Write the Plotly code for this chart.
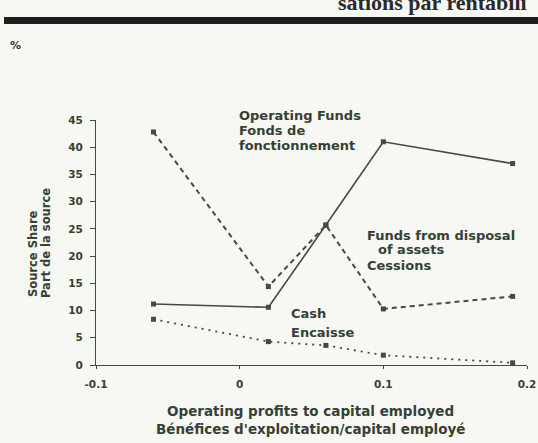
import plotly.graph_objects as go

# Data
x_vals = [-0.06, 0.02, 0.06, 0.10, 0.19]
operating_funds = [11.2, 10.6, 25.7, 41.0, 37.0]
disposal_assets = [42.8, 14.4, 25.7, 10.3, 12.6]
cash = [8.4, 4.3, 3.6, 1.8, 0.4]

x_tick_vals = [-0.1, 0, 0.1, 0.2]
x_tick_text = ["-0.1", "0", "0.1", "0.2"]
y_tick_vals = [0, 5, 10, 15, 20, 25, 30, 35, 40, 45]

INK = "#344234"
LINE = "#3f4c40"
BG = "#f7f7f3"
FONT = "DejaVu Sans"

W, H = 538, 443
L, R, T, B = 96, 11, 120, 78
PW, PH = W - L - R, H - T - B


def px(xp):
    return (xp - L) / PW


def py(yp):
    return (H - B - yp) / PH


fig = go.Figure()
fig.add_trace(go.Scatter(
    x=x_vals, y=operating_funds, mode="lines+markers",
    line=dict(color=LINE, width=1.6),
    marker=dict(symbol="square", size=5, color=LINE),
    name="Operating Funds", cliponaxis=False))
fig.add_trace(go.Scatter(
    x=x_vals, y=disposal_assets, mode="lines+markers",
    line=dict(color=LINE, width=2, dash="5px,4px"),
    marker=dict(symbol="square", size=5, color=LINE),
    name="Funds from disposal of assets", cliponaxis=False))
fig.add_trace(go.Scatter(
    x=x_vals, y=cash, mode="lines+markers",
    line=dict(color=LINE, width=1.8, dash="2px,5px"),
    marker=dict(symbol="square", size=5, color=LINE),
    name="Cash", cliponaxis=False))

annotations = []


def add_text(text, xp, yp, size=13, xanchor="left", angle=0, family=FONT, color=INK):
    annotations.append(dict(
        text=text, x=px(xp), y=py(yp), xref="paper", yref="paper",
        xanchor=xanchor, yanchor="middle", showarrow=False, textangle=angle,
        font=dict(family=family, size=size, color=color)))


# series labels
add_text("<b>Operating Funds</b>", 237, 115)
add_text("<b>Fonds de</b>", 237, 130)
add_text("<b>fonctionnement</b>", 237, 145)
add_text("<b>Funds from disposal</b>", 365, 235)
add_text("<b>of assets</b>", 376, 250)
add_text("<b>Cessions</b>", 365, 265)
add_text("<b>Cash</b>", 289, 313)
add_text("<b>Encaisse</b>", 289, 332)

# axis titles
add_text("<b>Operating profits to capital employed</b>", 310, 411, size=13.5, xanchor="center")
add_text("<b>Bénéfices d'exploitation/capital employé</b>", 310, 429, size=13.5, xanchor="center")
add_text("<b>Source Share</b>", 33, 254, size=11.5, xanchor="center", angle=-90)
add_text("<b>Part de la source</b>", 46, 243, size=11.5, xanchor="center", angle=-90)

# page furniture
add_text("<b>%</b>", 15, 45, size=11, xanchor="center", color="#333")
annotations.append(dict(
    text="<b>sations par rentabili</b>", x=px(336), y=py(17), xref="paper", yref="paper",
    xanchor="left", yanchor="bottom", showarrow=False,
    font=dict(family="Liberation Serif", size=22, color="#2a2a2a")))

fig.update_layout(
    width=W, height=H,
    margin=dict(l=L, r=R, t=T, b=B, autoexpand=False),
    paper_bgcolor=BG, plot_bgcolor=BG,
    showlegend=False,
    annotations=annotations,
    shapes=[dict(type="rect", xref="paper", yref="paper",
                 x0=px(4), x1=px(540), y0=py(24), y1=py(17),
                 fillcolor="#1e1e1e", line=dict(width=0))],
)
fig.update_xaxes(
    range=[-0.1, 0.2], tickvals=x_tick_vals, ticktext=x_tick_text,
    showgrid=False, zeroline=False, showline=True, linecolor=LINE, linewidth=1.3,
    ticks="outside", ticklen=3, tickcolor=LINE, ticklabelstandoff=6, automargin=False,
    tickfont=dict(family=FONT, size=10.5, color=INK, weight="bold"))
fig.update_yaxes(
    range=[0, 45], tickvals=y_tick_vals,
    showgrid=False, zeroline=False, showline=True, linecolor=LINE, linewidth=1.3,
    ticks="outside", ticklen=5, tickcolor=LINE, ticklabelstandoff=5, automargin=False,
    tickfont=dict(family=FONT, size=10.5, color=INK, weight="bold"))

fig.write_html(
    "out.html",
    config={"displayModeBar": False},
    post_script="document.body.style.margin='0';document.body.style.background='" + BG + "';",
)
